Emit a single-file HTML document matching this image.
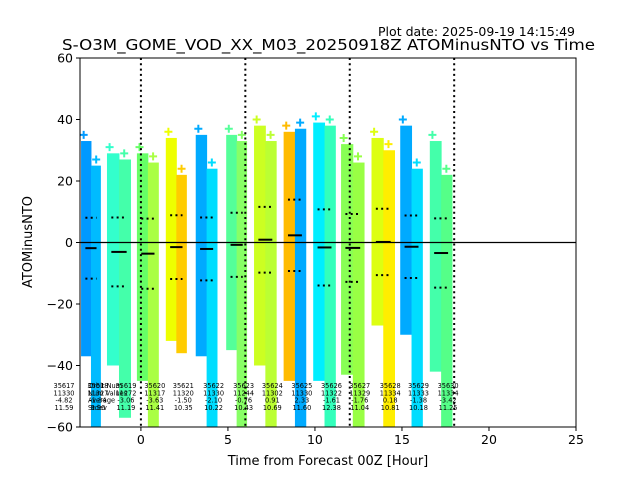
<!DOCTYPE html>
<html><head><meta charset="utf-8"><style>
html,body{margin:0;padding:0;background:#fff;}
svg{display:block;font-family:"DejaVu Sans","Liberation Sans",sans-serif;}
</style></head><body>
<svg id="chart" width="640" height="480" viewBox="0 0 640 480" xmlns="http://www.w3.org/2000/svg">
<text x="378" y="36" font-size="12" textLength="197" lengthAdjust="spacingAndGlyphs">Plot date: 2025-09-19 14:15:49</text>
<text x="62" y="50" font-size="15" textLength="533" lengthAdjust="spacingAndGlyphs">S-O3M_GOME_VOD_XX_M03_20250918Z ATOMinusNTO vs Time</text>
<g id="plot"></g>
<text x="328" y="465" font-size="13" text-anchor="middle">Time from Forecast 00Z [Hour]</text>
<text transform="translate(32,242) rotate(-90)" font-size="13" text-anchor="middle">ATOMinusNTO</text>
</svg>
<script>
const orbits=["35617","35618","35619","35620","35621","35622","35623","35624","35625","35626","35627","35628","35629","35630"];
const numValues=["11330","11327","11272","11317","11320","11330","11244","11302","11330","11322","11329","11334","11333","11334"];
const averages=[-4.82,-1.84,-3.06,-3.63,-1.50,-2.10,-0.76,0.91,2.33,-1.61,-1.76,0.18,-1.38,-3.42];
const stdevs=[11.59,9.90,11.19,11.41,10.35,10.22,10.43,10.69,11.60,12.38,11.04,10.81,10.18,11.25];
const groupStart=[-4.9,-3.44,-1.95,-0.23,1.43,3.15,4.9,6.5,8.2,9.9,11.5,13.25,14.9,16.6];
const groupEnd=[-3.6,-2.3,-0.57,1.03,2.64,4.4,6.1,7.8,9.5,11.2,12.85,14.6,16.2,17.9];
const topLeft=[30,33,29,29,34,35,35,38,36,39,32,34,38,33];
const topRight=[30,25,27,26,22,24,33,33,37,38,26,30,24,22];
const botLeft=[-40,-37,-40,-45,-32,-37,-35,-40,-45,-45,-43,-27,-30,-42];
const botRight=[-60,-60,-57,-60,-36,-60,-60,-60,-60,-60,-60,-60,-60,-60];
const colLeft=["#0099ff","#0099ff","#33ffcc","#66ff66","#eeff00","#00aaff","#55ff99","#ccff22","#ffbb00","#00eeff","#88ff55","#ddff11","#00aaff","#44ffaa"];
const colRight=["#00bbff","#00bbff","#44ffaa","#aaff44","#ffcc00","#00ddff","#88ff66","#bbff33","#00aaff","#33ffbb","#99ff44","#ffee00","#00ddff","#55ff88"];
const xTicks=[0,5,10,15,20,25];
const yTicks=[-60,-40,-20,0,20,40,60];
const forecastLines=[0,6,12,18];

const X0=80,X1=576,Y0=58,Y1=427,xmin=-3.5,xmax=25,ymin=-60,ymax=60;
const xs=v=>X0+(v-xmin)/(xmax-xmin)*(X1-X0);
const ys=v=>Y1-(v-ymin)/(ymax-ymin)*(Y1-Y0);
const NS="http://www.w3.org/2000/svg";
const plot=document.getElementById('plot');
function mk(tag,attrs,parent){const e=document.createElementNS(NS,tag);for(const k in attrs)e.setAttribute(k,attrs[k]);(parent||plot).appendChild(e);return e;}
const defs=mk('defs',{});
mk('rect',{x:X0,y:Y0,width:X1-X0,height:Y1-Y0,fill:'#fff'});
const clip=mk('clipPath',{id:'clip'},defs);mk('rect',{x:X0,y:Y0,width:X1-X0,height:Y1-Y0},clip);
const g=mk('g',{'clip-path':'url(#clip)'});


for(let i=0;i<orbits.length;i++){
  const a=groupStart[i],b=groupEnd[i],m=(a+b)/2;
  const r1=mk('rect',{x:xs(a),y:ys(topLeft[i]),width:xs(m)-xs(a)+0.5,height:ys(botLeft[i])-ys(topLeft[i]),fill:colLeft[i]},g);
  
  
  const r2=mk('rect',{x:xs(m),y:ys(topRight[i]),width:xs(b)-xs(m),height:ys(botRight[i])-ys(topRight[i]),fill:colRight[i]},g);
  
  
  [[a+0.15,topLeft[i]+2],[m+0.3,topRight[i]+2]].forEach(p=>{
    const c=mk('path',{d:`M${xs(p[0])-4},${ys(p[1])}h8M${xs(p[0])},${ys(p[1])-4}v8`,stroke:p[0]<m?colLeft[i]:colRight[i],'stroke-width':2},g);
    
    
  });
  const l1=a+0.25,l2=b-0.25;
  const ml=mk('line',{x1:xs(l1),x2:xs(l2),y1:ys(averages[i]),y2:ys(averages[i]),stroke:'#000','stroke-width':2},g);
  
  
  [averages[i]+stdevs[i],averages[i]-stdevs[i]].forEach(v=>{
    const sl=mk('line',{x1:xs(l1),x2:xs(l2),y1:ys(v),y2:ys(v),stroke:'#000','stroke-width':2,'stroke-dasharray':'2,3.3'},g);
    
    
  });
}
const zl=mk('line',{x1:X0,x2:X1,y1:ys(0),y2:ys(0),stroke:'#000','stroke-width':1.2});


forecastLines.forEach(v=>{
  const l=mk('line',{x1:xs(v),x2:xs(v),y1:Y0,y2:Y1,stroke:'#000','stroke-width':2,'stroke-dasharray':'2,3.3'});
  
  
});
const hdr=["Orbit Num","Num Values","Average","Stdev"];
hdr.forEach((t,k)=>{const e=mk('text',{x:88,y:388+k*7.3,'font-size':6.6});e.textContent=t;
  
  });
for(let i=0;i<orbits.length;i++){
  const cx=i==0?64:xs((groupStart[i]+groupEnd[i])/2+0.4);
  const vals=[orbits[i],numValues[i],averages[i].toFixed(2),stdevs[i].toFixed(2)];
  vals.forEach((t,k)=>{const e=mk('text',{x:cx,y:388+k*7.3,'font-size':6.6,'text-anchor':'middle'});e.textContent=t;
    
    });
}
const fr=mk('rect',{x:X0,y:Y0,width:X1-X0,height:Y1-Y0,fill:'none',stroke:'#000','stroke-width':1});


xTicks.forEach(v=>{
  const t=mk('line',{x1:xs(v),x2:xs(v),y1:Y1,y2:Y1+4,stroke:'#000'});
  
  
  const e=mk('text',{x:xs(v),y:Y1+17,'font-size':12.5,'text-anchor':'middle'});e.textContent=v;
  
  
});
yTicks.forEach(v=>{
  const t=mk('line',{x1:X0-4,x2:X0,y1:ys(v),y2:ys(v),stroke:'#000'});
  
  
  const e=mk('text',{x:X0-7,y:ys(v)+4.5,'font-size':12.5,'text-anchor':'end'});e.textContent=v<0?'\u2212'+Math.abs(v):v;
  
  
});
</script>
</body></html>
